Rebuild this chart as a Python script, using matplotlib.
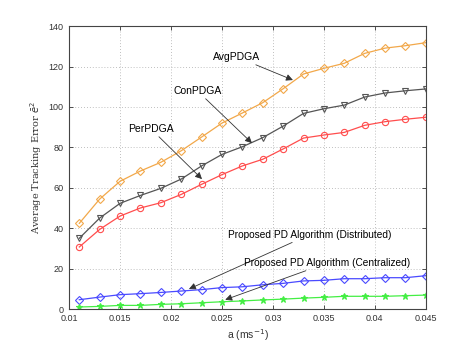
import matplotlib
matplotlib.use("Agg")
import matplotlib.pyplot as plt
import numpy as np

plt.rcParams['font.family'] = ['Liberation Sans', 'DejaVu Sans']

a = [0.011, 0.013, 0.015, 0.017, 0.019, 0.021, 0.023, 0.025, 0.027,
     0.029, 0.031, 0.033, 0.035, 0.037, 0.039, 0.041, 0.043, 0.045]
avg_pdga = [42.4, 54.4, 63.2, 68.3, 72.6, 78.3, 85.1, 92.0, 97.0,
            102.1, 109.0, 116.3, 119.1, 121.6, 126.5, 129.1, 130.3, 131.8]
con_pdga = [35.0, 45.0, 52.3, 56.2, 59.7, 64.3, 70.8, 76.5, 80.3,
            84.8, 90.5, 96.8, 99.1, 100.9, 104.9, 106.9, 108.0, 108.9]
per_pdga = [30.7, 39.4, 46.0, 50.0, 52.6, 56.7, 61.7, 66.5, 70.8,
            74.1, 79.2, 84.6, 86.1, 87.4, 90.9, 92.7, 93.9, 94.9]
pd_dist = [4.6, 5.9, 7.1, 7.6, 8.2, 8.9, 9.6, 10.6, 11.0,
           12.0, 12.7, 13.9, 14.2, 15.0, 15.0, 15.5, 15.5, 16.5]
pd_cent = [1.0, 1.3, 1.8, 1.8, 2.3, 2.6, 3.1, 3.6, 4.0,
           4.5, 4.9, 5.4, 5.8, 6.3, 6.3, 6.3, 6.6, 6.9]

xticks = [0.01, 0.015, 0.02, 0.025, 0.03, 0.035, 0.04, 0.045]
xticklabels = ["0.01", "0.015", "0.02", "0.025", "0.03", "0.035", "0.04", "0.045"]
yticks = [0, 20, 40, 60, 80, 100, 120, 140]

fig = plt.figure(figsize=(4.7, 3.48), dpi=100)
ax = fig.add_axes([0.147, 0.112, 0.759, 0.813])

ms = 4.5
ax.plot(a, avg_pdga, color="#f2a84a", marker="D", markersize=4, mfc="none", lw=0.9, mew=0.8)
ax.plot(a, con_pdga, color="#555555", marker="v", markersize=ms, mfc="none", lw=0.9, mew=0.8)
ax.plot(a, per_pdga, color="#ff4d4d", marker="o", markersize=ms, mfc="none", lw=0.9, mew=0.8)
ax.plot(a, pd_dist, color="#4a4aff", marker="D", markersize=4, mfc="none", lw=0.9, mew=0.8)
ax.plot(a, pd_cent, color="#44ee44", marker="*", markersize=4.5, mfc="#44ee44", lw=0.9, mew=0.8)

ax.set_xlim(0.01, 0.045)
ax.set_ylim(0, 140)
ax.set_xticks(xticks)
ax.set_xticklabels(xticklabels)
ax.set_yticks(yticks)
ax.tick_params(direction="in", top=True, right=True, labelsize=6.5, length=3, width=0.6,
               colors="#333333")
ax.tick_params(axis="x", pad=3.5)
ax.tick_params(axis="y", pad=4)
ax.grid(True, linestyle=(0, (1, 2.5)), color="#aaaaaa", linewidth=0.6)
for s in ax.spines.values():
    s.set_color("#444444")
    s.set_linewidth(0.8)

ax.set_xlabel("a (ms$^{-1}$)", fontsize=7.5, color="#333333", labelpad=3)
ax.set_ylabel(r"Average Tracking Error $\bar{e}^2$", fontsize=7, family="serif",
              color="#333333", labelpad=3)

arrow = dict(arrowstyle="-|>", color="#333333", lw=0.6, mutation_scale=10,
             shrinkA=0, shrinkB=0)
tfs = 7.5
ax.annotate("AvgPDGA", xy=(0.03196, 113.3), xytext=(0.02647, 124.7), fontsize=tfs,
            ha="center", va="center", arrowprops=arrow)
ax.annotate("ConPDGA", xy=(0.02794, 82.1), xytext=(0.0226, 107.9), fontsize=tfs,
            ha="center", va="center", arrowprops=arrow)
ax.annotate("PerPDGA", xy=(0.02304, 64.3), xytext=(0.01804, 89.1), fontsize=tfs,
            ha="center", va="center", arrowprops=arrow)
ax.annotate("Proposed PD Algorithm (Distributed)", xy=(0.02176, 9.9),
            xytext=(0.03358, 36.8), fontsize=7.3, ha="center", va="center", arrowprops=arrow)
ax.annotate("Proposed PD Algorithm (Centralized)", xy=(0.02532, 4.6),
            xytext=(0.03535, 22.8), fontsize=7.3, ha="center", va="center", arrowprops=arrow)

fig.savefig("out.png", dpi=100)
